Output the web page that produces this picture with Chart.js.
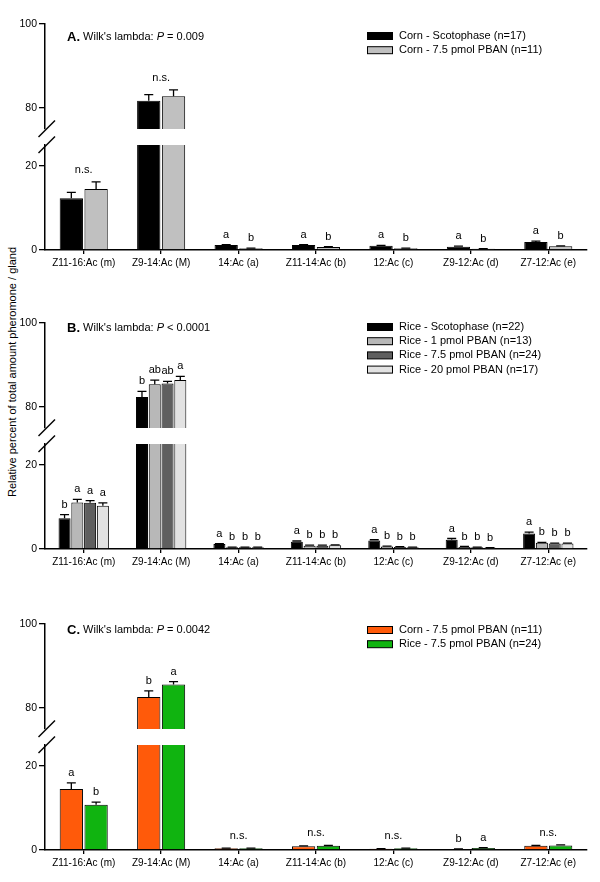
<!DOCTYPE html>
<html>
<head>
<meta charset="utf-8">
<title>Pheromone composition, corn vs rice</title>
<script src="https://cdn.jsdelivr.net/npm/chart.js@4.4.1/dist/chart.umd.min.js"></script>
<style>
  html, body { margin: 0; padding: 0; background: #fff; }
  #fig { position: relative; width: 600px; height: 882px; overflow: hidden; }
  #fig canvas { position: absolute; left: 0; }
  #ytitle {
    position: absolute; left: 12px; top: 372px;
    transform: translate(-50%, -50%) rotate(-90deg);
    white-space: nowrap; color: #000;
    font: 11px "Liberation Sans", Arial, sans-serif;
  }
</style>
</head>
<body>
<div id="fig"><div id="ytitle">Relative percent of total amount pheromone / gland</div></div>
<script>
// categories (pheromone compounds)
const compounds = ['Z11-16:Ac (m)', 'Z9-14:Ac (M)', '14:Ac (a)', 'Z11-14:Ac (b)', '12:Ac (c)', 'Z9-12:Ac (d)', 'Z7-12:Ac (e)'];

// broken y axis: two segments
const upperRange = [75, 100];
const lowerRange = [0, 25];
const upperTicks = [80, 100];
const lowerTicks = [0, 20];

// A. corn strain
const cornScoto    = [12.3, 81.7, 1.2, 1.2, 1.0, 0.8, 1.9];
const cornScotoErr = [1.4, 1.5, 0.1, 0.1, 0.1, 0.1, 0.2];
const cornPban     = [14.5, 82.8, 0.4, 0.7, 0.4, 0.3, 0.9];
const cornPbanErr  = [1.7, 1.5, 0.05, 0.1, 0.05, 0.05, 0.1];
const lettersCornScoto = ['', '', 'a', 'a', 'a', 'a', 'a'];
const lettersCornPban  = ['', '', 'b', 'b', 'b', 'b', 'b'];
const notesA = ['n.s.', 'n.s.', '', '', '', '', ''];

// B. rice strain
const riceScoto    = [7.3, 82.4, 1.2, 1.7, 2.0, 2.2, 3.7];
const riceScotoErr = [0.9, 1.3, 0.1, 0.2, 0.2, 0.3, 0.3];
const rice1        = [11.1, 85.4, 0.4, 0.8, 0.6, 0.5, 1.5];
const rice1Err     = [0.7, 1.0, 0.05, 0.1, 0.1, 0.1, 0.1];
const rice75       = [11.0, 85.6, 0.4, 0.8, 0.5, 0.4, 1.3];
const rice75Err    = [0.5, 0.5, 0.05, 0.1, 0.05, 0.05, 0.1];
const rice20       = [10.3, 86.4, 0.4, 0.9, 0.4, 0.3, 1.3];
const rice20Err    = [0.7, 0.9, 0.05, 0.1, 0.05, 0.05, 0.1];
const lettersRiceScoto = ['b', 'b', 'a', 'a', 'a', 'a', 'a'];
const lettersRice1     = ['a', 'ab', 'b', 'b', 'b', 'b', 'b'];
const lettersRice75    = ['a', 'ab', 'b', 'b', 'b', 'b', 'b'];
const lettersRice20    = ['a', 'a', 'b', 'b', 'b', 'b', 'b'];
const notesB = ['', '', '', '', '', '', ''];

// C. corn vs rice, 7.5 pmol PBAN
const cornC     = [14.5, 82.6, 0.4, 0.9, 0.3, 0.2, 1.0];
const cornCErr  = [1.5, 1.5, 0.05, 0.1, 0.05, 0.05, 0.1];
const riceC     = [10.8, 85.6, 0.4, 1.0, 0.4, 0.5, 1.1];
const riceCErr  = [0.6, 0.7, 0.05, 0.1, 0.05, 0.05, 0.1];
const lettersCornC = ['a', 'b', '', '', '', 'b', ''];
const lettersRiceC = ['b', 'a', '', '', '', 'a', ''];
const notesC = ['', '', 'n.s.', 'n.s.', 'n.s.', '', 'n.s.'];

const FONT = '"Liberation Sans", Arial, sans-serif';
Chart.defaults.font.family = FONT;
Chart.defaults.color = '#000';

const SEG_H = 105, GAP = 16, LEFT = 45, RIGHT_PAD = 13;
const TOP_PAD = 16, TOP_BOT = 12, BOT_PAD = 12, X_H = 30;

const panels = [
  { y100: 24, titleY: 37, legendY: 36, title: ['A.', " Wilk's lambda: ", 'P', ' = 0.009'], notes: notesA,
    series: [
      { label: 'Corn - Scotophase (n=17)', data: cornScoto, err: cornScotoErr, letters: lettersCornScoto, color: '#000000' },
      { label: 'Corn - 7.5 pmol PBAN (n=11)', data: cornPban, err: cornPbanErr, letters: lettersCornPban, color: '#c0c0c0' }
    ] },
  { y100: 323, titleY: 328, legendY: 327, title: ['B.', " Wilk's lambda: ", 'P', ' < 0.0001'], notes: notesB,
    series: [
      { label: 'Rice - Scotophase (n=22)', data: riceScoto, err: riceScotoErr, letters: lettersRiceScoto, color: '#000000' },
      { label: 'Rice - 1 pmol PBAN (n=13)', data: rice1, err: rice1Err, letters: lettersRice1, color: '#b8b8b8' },
      { label: 'Rice - 7.5 pmol PBAN (n=24)', data: rice75, err: rice75Err, letters: lettersRice75, color: '#5f5f5f' },
      { label: 'Rice - 20 pmol PBAN (n=17)', data: rice20, err: rice20Err, letters: lettersRice20, color: '#e2e2e2' }
    ] },
  { y100: 624, titleY: 630, legendY: 630, title: ['C.', " Wilk's lambda: ", 'P', ' = 0.0042'], notes: notesC,
    series: [
      { label: 'Corn - 7.5 pmol PBAN (n=11)', data: cornC, err: cornCErr, letters: lettersCornC, color: '#ff5a0a' },
      { label: 'Rice - 7.5 pmol PBAN (n=24)', data: riceC, err: riceCErr, letters: lettersRiceC, color: '#10b410' }
    ] }
];

// error bars, letters, break marks, title and legend
function decor(panel, upper, canvasTop) {
  return {
    id: 'decor',
    afterDatasetsDraw(chart) {
      const { ctx, chartArea, scales: { x, y } } = chart;
      const inRange = v => v >= y.min && v <= y.max;
      ctx.save();
      ctx.strokeStyle = '#000';
      ctx.fillStyle = '#000';
      ctx.lineWidth = 1.3;
      ctx.font = '11px ' + FONT;
      ctx.textAlign = 'center';
      ctx.textBaseline = 'middle';
      chart.data.datasets.forEach((ds, di) => {
        chart.getDatasetMeta(di).data.forEach((bar, i) => {
          const v = ds.data[i];
          if (!inRange(v)) return;
          const yv = y.getPixelForValue(v);
          const ye = y.getPixelForValue(v + ds.errors[i]);
          const cap = Math.min(9, bar.width * 0.8);
          ctx.beginPath();
          ctx.moveTo(bar.x, yv); ctx.lineTo(bar.x, ye);
          ctx.moveTo(bar.x - cap / 2, ye); ctx.lineTo(bar.x + cap / 2, ye);
          ctx.stroke();
          if (ds.letters[i]) ctx.fillText(ds.letters[i], bar.x, ye - 10);
        });
      });
      panel.notes.forEach((note, i) => {
        if (!note) return;
        const vals = chart.data.datasets.map(ds => ds.data[i]);
        if (!inRange(Math.max(...vals))) return;
        const top = Math.max(...chart.data.datasets.map(ds => ds.data[i] + ds.errors[i]));
        ctx.fillText(note, x.getPixelForValue(i), y.getPixelForValue(top) - 12);
      });
      // axis break slash
      const yb = upper ? chartArea.bottom : chartArea.top;
      ctx.lineWidth = 1.4;
      ctx.beginPath();
      ctx.moveTo(chartArea.left - 6.5, yb + 8);
      ctx.lineTo(chartArea.left + 10, yb - 8.5);
      ctx.stroke();

      if (upper) {
        // panel title
        let tx = 67;
        const ty = panel.titleY - canvasTop;
        const fonts = ['bold 13px ', '11px ', 'italic 11px ', '11px '];
        ctx.textAlign = 'left';
        panel.title.forEach((part, k) => {
          ctx.font = fonts[k] + FONT;
          ctx.fillText(part, tx, ty);
          tx += ctx.measureText(part).width;
        });
        // legend
        ctx.font = '11px ' + FONT;
        ctx.lineWidth = 1;
        chart.data.datasets.forEach((ds, di) => {
          const ly = panel.legendY - canvasTop + di * 14.2;
          ctx.fillStyle = ds.backgroundColor;
          ctx.fillRect(367, ly - 3.5, 25, 7);
          ctx.strokeRect(367.5, ly - 3.5, 25, 7);
          ctx.fillStyle = '#000';
          ctx.fillText(ds.label, 399, ly);
        });
      }
      ctx.restore();
    }
  };
}

function segment(panel, upper) {
  const fig = document.getElementById('fig');
  const canvas = document.createElement('canvas');
  const top = upper ? panel.y100 - TOP_PAD : panel.y100 + SEG_H + GAP - BOT_PAD;
  const h = upper ? TOP_PAD + SEG_H + TOP_BOT : BOT_PAD + SEG_H + X_H;
  canvas.width = 600; canvas.height = h;
  canvas.style.width = '600px'; canvas.style.height = h + 'px'; canvas.style.top = top + 'px';
  fig.appendChild(canvas);
  const range = upper ? upperRange : lowerRange;
  const ticks = upper ? upperTicks : lowerTicks;
  const n = panel.series.length;
  return new Chart(canvas, {
    type: 'bar',
    data: {
      labels: compounds,
      datasets: panel.series.map(s => ({
        label: s.label, data: s.data, errors: s.err, letters: s.letters,
        backgroundColor: s.color, borderColor: '#000', borderWidth: 1,
        categoryPercentage: n > 2 ? 0.66 : 0.64, barPercentage: 0.94, clip: 0
      }))
    },
    options: {
      responsive: false, animation: false,
      layout: { padding: { top: upper ? TOP_PAD : BOT_PAD, bottom: upper ? TOP_BOT : 0, left: 0, right: RIGHT_PAD } },
      plugins: { legend: { display: false }, tooltip: { enabled: false } },
      scales: {
        x: {
          display: !upper,
          grid: { drawOnChartArea: false, offset: false, tickLength: 4, color: '#000', lineWidth: 1.3 },
          border: { color: '#000', width: 1.5 },
          ticks: { padding: 3, font: { size: 10 }, color: '#000', maxRotation: 0, autoSkip: false },
          afterFit: s => { s.height = upper ? 0 : X_H; }
        },
        y: {
          min: range[0], max: range[1],
          afterBuildTicks: s => { s.ticks = ticks.map(v => ({ value: v })); },
          afterFit: s => { s.width = LEFT; },
          grid: { drawOnChartArea: false, tickLength: 6, color: '#000', lineWidth: 1.3 },
          border: { color: '#000', width: 1.5 },
          ticks: { padding: 2, font: { size: 10.5 }, color: '#000' }
        }
      }
    },
    plugins: [decor(panel, upper, top)]
  });
}

panels.forEach(p => { segment(p, true); segment(p, false); });
</script>
</body>
</html>
